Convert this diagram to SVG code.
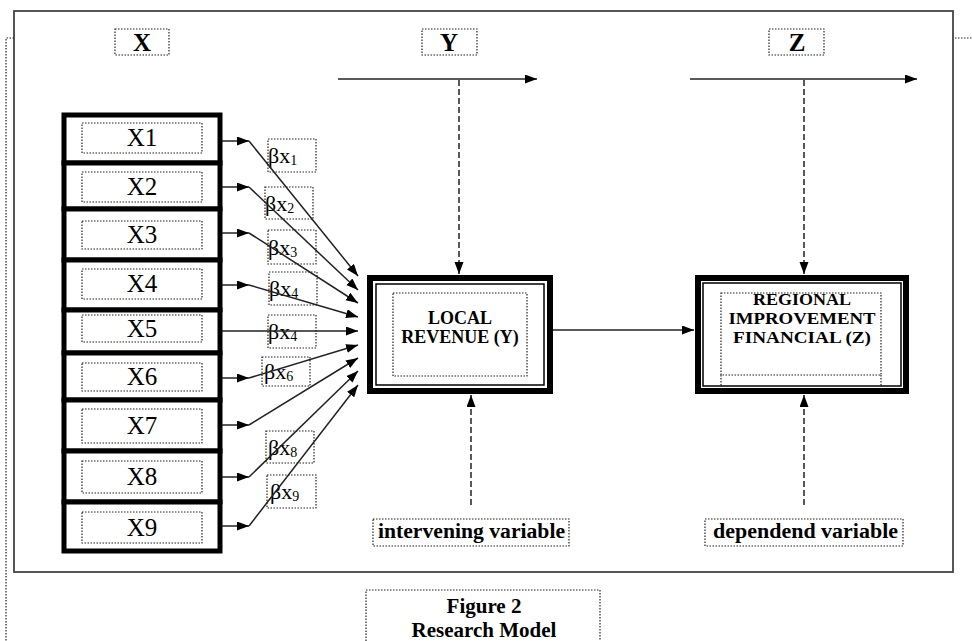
<svg xmlns="http://www.w3.org/2000/svg" width="972" height="641" viewBox="0 0 972 641">
<defs>
<marker id="ah" markerUnits="userSpaceOnUse" markerWidth="13" markerHeight="10" refX="12" refY="4.5" orient="auto">
<path d="M0,0 L12,4.5 L0,9 z" fill="#000"/>
</marker>
<style>
.dot{fill:none;stroke:#222;stroke-width:1.2;stroke-dasharray:1.5 1.5}
.xb{fill:#fff;stroke:#000;stroke-width:5}
.xt{font-family:"Liberation Serif",serif;font-size:25px;fill:#000;text-anchor:middle}
.bt{font-family:"Liberation Serif",serif;font-size:22px;fill:#000}
.sub{font-size:14px}
.hd{font-family:"Liberation Serif",serif;font-size:25px;font-weight:bold;fill:#000;text-anchor:middle}
.bx{font-family:"Liberation Serif",serif;font-size:18px;font-weight:bold;fill:#000;text-anchor:middle}
.bz{font-family:"Liberation Serif",serif;font-size:16px;font-weight:bold;fill:#000;text-anchor:middle}
.lb{font-family:"Liberation Serif",serif;font-size:20px;font-weight:bold;fill:#000}
.ln{fill:none;stroke:#222;stroke-width:1.5}
.da{fill:none;stroke:#222;stroke-width:1.5;stroke-dasharray:6 3}
</style>
</defs>
<rect width="972" height="641" fill="#fff"/>
<!-- frame -->
<rect x="14" y="11" width="939" height="561" fill="none" stroke="#444" stroke-width="1.8"/>
<path d="M14,38 H6 V641 M955,38 H972" class="dot"/>

<!-- headings -->
<g id="label-X"><rect x="115" y="29" width="54" height="26" class="dot"/><text x="142" y="51" class="hd">X</text></g>
<g id="label-Y"><rect x="422" y="29" width="55" height="26" class="dot"/><text x="449" y="51" class="hd">Y</text></g>
<g id="label-Z"><rect x="769" y="29" width="55" height="26" class="dot"/><text x="797" y="51" class="hd">Z</text></g>

<!-- X boxes -->
<g id="X1"><rect x="64" y="115" width="156" height="48" class="xb"/><rect x="82" y="123" width="120" height="30" class="dot"/><text x="142" y="146" class="xt">X1</text></g>
<g id="X2"><rect x="64" y="163" width="156" height="46" class="xb"/><rect x="82" y="172" width="120" height="30" class="dot"/><text x="142" y="195" class="xt">X2</text></g>
<g id="X3"><rect x="64" y="209" width="156" height="51" class="xb"/><rect x="82" y="221" width="120" height="28" class="dot"/><text x="142" y="243" class="xt">X3</text></g>
<g id="X4"><rect x="64" y="260" width="156" height="50" class="xb"/><rect x="82" y="269" width="120" height="30" class="dot"/><text x="142" y="292" class="xt">X4</text></g>
<g id="X5"><rect x="64" y="310" width="156" height="43" class="xb"/><rect x="82" y="315" width="120" height="27" class="dot"/><text x="142" y="337" class="xt">X5</text></g>
<g id="X6"><rect x="64" y="353" width="156" height="47" class="xb"/><rect x="82" y="363" width="120" height="28" class="dot"/><text x="142" y="385" class="xt">X6</text></g>
<g id="X7"><rect x="64" y="400" width="156" height="51" class="xb"/><rect x="82" y="409" width="120" height="34" class="dot"/><text x="142" y="434" class="xt">X7</text></g>
<g id="X8"><rect x="64" y="451" width="156" height="51" class="xb"/><rect x="82" y="461" width="120" height="32" class="dot"/><text x="142" y="485" class="xt">X8</text></g>
<g id="X9"><rect x="64" y="502" width="156" height="49" class="xb"/><rect x="82" y="512" width="120" height="31" class="dot"/><text x="142" y="536" class="xt">X9</text></g>

<!-- beta labels -->
<g id="bx1"><rect x="268" y="139" width="48" height="33" class="dot"/><text x="268" y="163" class="bt">βx<tspan class="sub" dy="2">1</tspan></text></g>
<g id="bx2"><rect x="265" y="187" width="48" height="32" class="dot"/><text x="265" y="211" class="bt">βx<tspan class="sub" dy="2">2</tspan></text></g>
<g id="bx3"><rect x="268" y="230" width="48" height="34" class="dot"/><text x="268" y="255" class="bt">βx<tspan class="sub" dy="2">3</tspan></text></g>
<g id="bx4a"><rect x="269" y="272" width="48" height="33" class="dot"/><text x="269" y="296" class="bt">βx<tspan class="sub" dy="2">4</tspan></text></g>
<g id="bx4b"><rect x="268" y="315" width="48" height="33" class="dot"/><text x="268" y="339" class="bt">βx<tspan class="sub" dy="2">4</tspan></text></g>
<g id="bx6"><rect x="262" y="357" width="48" height="29" class="dot"/><text x="264" y="379" class="bt">βx<tspan class="sub" dy="2">6</tspan></text></g>
<g id="bx8"><rect x="266" y="431" width="48" height="32" class="dot"/><text x="268" y="455" class="bt">βx<tspan class="sub" dy="2">8</tspan></text></g>
<g id="bx9"><rect x="267" y="475" width="49" height="33" class="dot"/><text x="270" y="499" class="bt">βx<tspan class="sub" dy="2">9</tspan></text></g>

<!-- Y box -->
<g id="Y-box">
<rect x="370" y="278" width="180" height="113" fill="#fff" stroke="#000" stroke-width="6"/>
<rect x="376" y="284" width="168" height="101" fill="none" stroke="#000" stroke-width="1.5"/>
<rect x="393" y="293" width="134" height="83" class="dot"/>
<text x="460" y="324" class="bx">LOCAL</text>
<text x="460" y="343" class="bx">REVENUE (Y)</text>
</g>

<!-- Z box -->
<g id="Z-box">
<rect x="698" y="278" width="208" height="113" fill="#fff" stroke="#000" stroke-width="6"/>
<rect x="703" y="283" width="198" height="103" fill="none" stroke="#000" stroke-width="1.5"/>
<rect x="721" y="293" width="160" height="82" class="dot"/>
<path d="M721,375 V387 M881,375 V387" class="dot"/>
<text x="802" y="305" class="bz" textLength="98" lengthAdjust="spacingAndGlyphs">REGIONAL</text>
<text x="802" y="324" class="bz" textLength="147" lengthAdjust="spacingAndGlyphs">IMPROVEMENT</text>
<text x="802" y="343" class="bz" textLength="138" lengthAdjust="spacingAndGlyphs">FINANCIAL (Z)</text>
</g>

<!-- bottom labels -->
<g id="intervening"><rect x="373" y="519" width="196" height="27" class="dot"/><text x="378" y="538" class="lb" textLength="187" lengthAdjust="spacingAndGlyphs">intervening variable</text></g>
<g id="dependend"><rect x="705" y="519" width="198" height="27" class="dot"/><text x="713" y="538" class="lb" textLength="185" lengthAdjust="spacingAndGlyphs">dependend  variable</text></g>

<g id="caption"><path d="M366,641 V590 H600 V641" class="dot"/>
<text x="484" y="613" class="hd" style="font-size:21px">Figure 2</text>
<text x="484" y="637" class="hd" style="font-size:21px">Research Model</text></g>

<!-- connectors -->
<g id="connectors">
<line x1="222" y1="141" x2="249" y2="141" class="ln" marker-end="url(#ah)"/>
<line x1="249" y1="141" x2="358" y2="276" class="ln" marker-end="url(#ah)"/>
<line x1="222" y1="187" x2="249" y2="187" class="ln" marker-end="url(#ah)"/>
<line x1="249" y1="187" x2="358" y2="290" class="ln" marker-end="url(#ah)"/>
<line x1="222" y1="233" x2="249" y2="233" class="ln" marker-end="url(#ah)"/>
<line x1="249" y1="233" x2="358" y2="303" class="ln" marker-end="url(#ah)"/>
<line x1="222" y1="285" x2="249" y2="285" class="ln" marker-end="url(#ah)"/>
<line x1="249" y1="285" x2="358" y2="317" class="ln" marker-end="url(#ah)"/>
<line x1="222" y1="331" x2="358" y2="331" class="ln" marker-end="url(#ah)"/>
<line x1="222" y1="378" x2="249" y2="378" class="ln" marker-end="url(#ah)"/>
<line x1="249" y1="378" x2="358" y2="345" class="ln" marker-end="url(#ah)"/>
<line x1="222" y1="425" x2="249" y2="425" class="ln" marker-end="url(#ah)"/>
<line x1="249" y1="425" x2="358" y2="358" class="ln" marker-end="url(#ah)"/>
<line x1="222" y1="477" x2="249" y2="477" class="ln" marker-end="url(#ah)"/>
<line x1="249" y1="477" x2="358" y2="371" class="ln" marker-end="url(#ah)"/>
<line x1="222" y1="526" x2="249" y2="526" class="ln" marker-end="url(#ah)"/>
<line x1="249" y1="526" x2="358" y2="385" class="ln" marker-end="url(#ah)"/>
<line x1="553" y1="330" x2="694" y2="330" class="ln" marker-end="url(#ah)"/>
<line x1="338" y1="79" x2="537" y2="79" class="ln" marker-end="url(#ah)"/>
<line x1="690" y1="79" x2="917" y2="79" class="ln" marker-end="url(#ah)"/>
<line x1="459" y1="80" x2="459" y2="274" class="da" marker-end="url(#ah)"/>
<line x1="804" y1="80" x2="804" y2="274" class="da" marker-end="url(#ah)"/>
<line x1="471" y1="505" x2="471" y2="395" class="da" marker-end="url(#ah)"/>
<line x1="804" y1="505" x2="804" y2="395" class="da" marker-end="url(#ah)"/>
</g>
</svg>
